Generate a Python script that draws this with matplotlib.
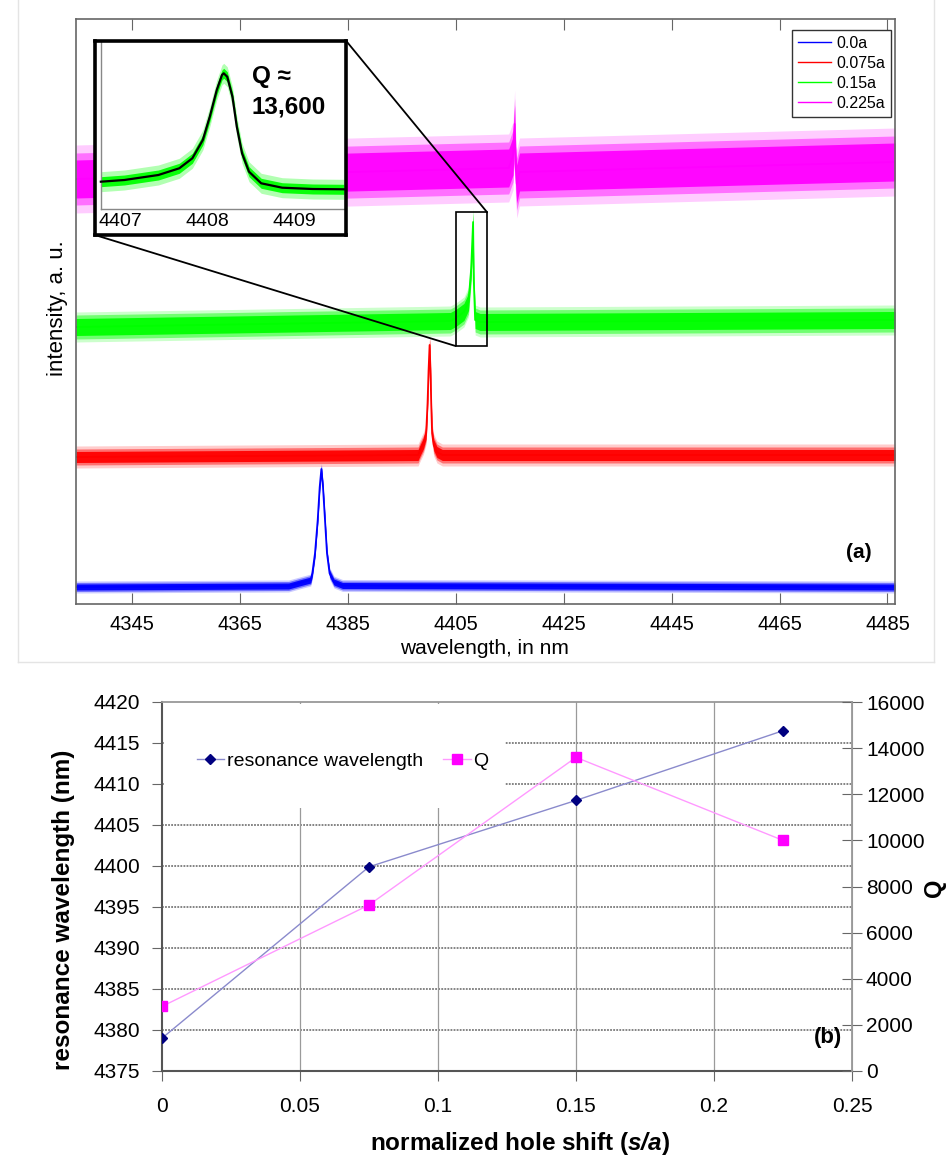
import numpy as np
import matplotlib
matplotlib.use("Agg")
import matplotlib.pyplot as plt
from matplotlib.patches import Rectangle, ConnectionPatch
from matplotlib.lines import Line2D

plt.rcParams['font.family'] = ['Liberation Sans', 'DejaVu Sans']
plt.rcParams['mathtext.fontset'] = 'custom'
plt.rcParams['mathtext.rm'] = 'Liberation Sans'
plt.rcParams['mathtext.it'] = 'Liberation Sans:italic'
plt.rcParams['mathtext.bf'] = 'Liberation Sans:bold'
try:
    plt.rcParams['mathtext.bfit'] = 'Liberation Sans:bold:italic'
except Exception:
    pass

# ---------------- panel (a) data: spectra (wavelength nm, intensity a.u.) ----------------
series_labels = ['0.0a', '0.075a', '0.15a', '0.225a']
series_colors = ['#0000ff', '#ff0000', '#00ff00', '#ff00ff']

wl_00 = [4334.6, 4374.0, 4376.0, 4378.1, 4378.4, 4378.9, 4379.4, 4379.77, 4380.08,
         4380.38, 4380.75, 4381.12, 4381.6, 4382.4, 4384.0, 4486.4]
int_00 = [17, 18, 21, 24, 30.7, 50.7, 84, 117, 135, 117, 84, 50.7, 30.7, 22, 18.5, 17]

wl_075 = [4334.6, 4398.0, 4398.4, 4399.0, 4399.5, 4399.76, 4399.95, 4400.14, 4400.3,
          4400.44, 4400.6, 4400.9, 4401.5, 4402.5, 4486.4]
int_075 = [147, 149, 154, 160.7, 170.7, 200.7, 234, 259, 234, 200.7, 170.7, 159, 152, 149, 149]

wl_150 = [4334.6, 4404.0, 4405.0, 4406.5, 4407.35, 4407.84, 4408.2, 4408.32, 4408.58, 4409.5, 4486.4]
int_150 = [277, 283, 286, 292, 302, 335, 382, 325, 284, 282, 284]

wl_225 = [4334.6, 4414.8, 4415.6, 4415.9, 4416.05, 4416.3, 4416.8, 4486.4]
int_225 = [425, 436, 448, 480, 440, 420, 432, 442]

noise_core = [3.0, 5.5, 8.5, 19.0]     # half-width of dense noise band
noise_mid = [4.5, 8.0, 12.0, 26.0]     # half-width of medium noise band
noise_spike = [6.0, 11.0, 15.0, 34.0]  # half-width of sparse noise spikes

xticks_a = [4345, 4365, 4385, 4405, 4425, 4445, 4465, 4485]

# inset: fitted line shape of the 0.15a mode
inset_wl = [4406.78, 4407.05, 4407.44, 4407.68, 4407.83, 4407.95, 4408.03, 4408.11, 4408.17,
            4408.19, 4408.23, 4408.29, 4408.34, 4408.40, 4408.48, 4408.62, 4408.86, 4409.21, 4409.57]
inset_int = [27.6, 29.3, 34.3, 41, 51, 69.3, 92.6, 119.3, 134.3, 136, 132.6, 112.6, 82.6,
             56, 37.6, 26, 21.6, 20.3, 20]
inset_ticks = [4407, 4408, 4409]

# ---------------- panel (b) data ----------------
hole_shift = [0.0, 0.075, 0.15, 0.225]
res_wl = [4379.0, 4399.9, 4408.0, 4416.5]
q_vals = [2800, 7200, 13600, 10000]
xticks_b = [0, 0.05, 0.1, 0.15, 0.2, 0.25]
xticklabels_b = ['0', '0.05', '0.1', '0.15', '0.2', '0.25']

# ------------------------------------------------------------------
W, H = 948, 1163
fig = plt.figure(figsize=(W / 100, H / 100), dpi=100)

def fx(px):
    return px / W

def fy(py):
    return 1 - py / H

# faint frame lines of the original composite
for xs, ys in [([18, 18], [0, 662]), ([934, 934], [0, 662]), ([18, 934], [662, 662])]:
    fig.add_artist(Line2D([fx(v) for v in xs], [fy(v) for v in ys], color='#e4e4e4',
                          lw=1, transform=fig.transFigure))

# ---------------- panel (a) ----------------
ax1 = fig.add_axes([fx(76), fy(604), (895 - 76) / W, (604 - 19) / H])
ax1.set_xlim(4334.6, 4486.4)
ax1.set_ylim(0, 585)
spectra = [(wl_00, int_00), (wl_075, int_075), (wl_150, int_150), (wl_225, int_225)]
for (wl, it), col, nc, nm, ns in zip(spectra, series_colors, noise_core, noise_mid, noise_spike):
    wl = np.array(wl)
    it = np.array(it, dtype=float)
    ax1.fill_between(wl, it - ns, it + ns, color=col, alpha=0.2, lw=0)
    ax1.fill_between(wl, it - nm, it + nm, color=col, alpha=0.45, lw=0)
    ax1.fill_between(wl, it - nc, it + nc, color=col, alpha=0.95, lw=0)
    ax1.plot(wl, it, color=col, lw=1.3)

ax1.set_xticks(xticks_a)
ax1.set_xticklabels([str(v) for v in xticks_a], fontsize=14.5)
ax1.set_yticks([])
ax1.tick_params(axis='x', direction='in', length=8, top=True, color='#666', pad=8)
for s in ax1.spines.values():
    s.set_color('#666')
    s.set_linewidth(1.2)
fig.text(fx(484), fy(649), 'wavelength, in nm', fontsize=15, ha='center', va='center')
fig.text(fx(57), fy(308), 'intensity, a. u.', fontsize=16, rotation=90, ha='center', va='center')
ax1.text((858.5 - 76) / 819, (604 - 552) / 585, '(a)', transform=ax1.transAxes,
         fontsize=15, fontweight='bold', ha='center', va='center')

handles = [Line2D([], [], color=c, lw=1) for c in series_colors]
leg = ax1.legend(handles, series_labels, loc='upper right',
                 bbox_to_anchor=((890.7 - 76) / 819, (604 - 30) / 585),
                 borderaxespad=0, fontsize=11.5, frameon=True, fancybox=False,
                 edgecolor='#333', framealpha=1, handlelength=2.1, handletextpad=0.3,
                 labelspacing=0.32, borderpad=0.35)
leg.get_frame().set_linewidth(1.0)

# zoom rectangle in main panel
rx0, rx1, ry0, ry1 = 4404.95, 4410.8, 258.0, 391.7
ax1.add_patch(Rectangle((rx0, ry0), rx1 - rx0, ry1 - ry0, fill=False, ec='k', lw=1.2, zorder=5))

# inset
axin = fig.add_axes([fx(95), fy(235), 251 / W, 194.3 / H])
axin.set_xlim(4406.713, 4409.593)
axin.set_ylim(-25.7, 168.6)
axin.set_xticks([])
axin.set_yticks([])
for s in axin.spines.values():
    s.set_linewidth(2.6)
    s.set_color('k')
axin.plot([inset_wl[0], inset_wl[0]], [0, 168.6], color='#888', lw=1)
axin.plot([inset_wl[0], 4409.593], [0, 0], color='#888', lw=1)
iw = np.array(inset_wl)
ii = np.array(inset_int, dtype=float)
axin.fill_between(iw, ii - 10, ii + 10, color='#00ff00', alpha=0.3, lw=0)
axin.fill_between(iw, ii - 5, ii + 5, color='#00ff00', alpha=0.95, lw=0)
axin.plot(iw, ii, color='k', lw=1.6)
for v in inset_ticks:
    axin.text(v, -12.4, str(v), fontsize=14, ha='center', va='center')
axin.text(4408.51, 132.6, 'Q \u2248', fontsize=17.5, fontweight='bold', ha='left', va='center')
axin.text(4408.51, 102.3, '13,600', fontsize=17.5, fontweight='bold', ha='left', va='center')

fig.add_artist(ConnectionPatch(xyA=(1, 1), coordsA=axin.transAxes, xyB=(rx1, ry1),
                               coordsB=ax1.transData, color='k', lw=1.3))
fig.add_artist(ConnectionPatch(xyA=(0, 0), coordsA=axin.transAxes, xyB=(rx0, ry0),
                               coordsB=ax1.transData, color='k', lw=1.3))

# ---------------- panel (b) ----------------
ax2 = fig.add_axes([fx(162), fy(1071), 690 / W, 369 / H])
ax2.set_xlim(0, 0.25)
ax2.set_ylim(4375, 4420)
ax2.set_xticks(xticks_b)
ax2.set_xticklabels(xticklabels_b, fontsize=15)
ax2.set_yticks(np.arange(4375, 4421, 5))
ax2.tick_params(axis='y', labelsize=15, direction='out', length=7, color='#666', pad=8.5)
ax2.tick_params(axis='x', direction='out', length=7, color='#666', pad=12)
for yv in np.arange(4380, 4416, 5):
    ax2.axhline(yv, color='#7a7a7a', lw=1.3, ls=(0, (1, 0.7)), zorder=1)
for xv in xticks_b[1:-1]:
    ax2.axvline(xv, color='#9a9a9a', lw=0.9, zorder=1)
ax2.add_patch(Rectangle((0.003, 0.7127), 0.494, 0.283, transform=ax2.transAxes,
                        fc='white', ec='none', zorder=1.5))
l1, = ax2.plot(hole_shift, res_wl, color='#8a8acc', lw=1.0, marker='D', ms=5.5,
               mfc='#000080', mec='#000080', zorder=3, label='resonance wavelength')
ax2.spines['left'].set_color('#555')
ax2.spines['left'].set_linewidth(1.5)
ax2.spines['bottom'].set_color('#555')
ax2.spines['bottom'].set_linewidth(1.5)
ax2.spines['top'].set_color('#999')
ax2.spines['top'].set_linewidth(1.3)
ax2.spines['right'].set_color('#999')

ax3 = ax2.twinx()
ax3.set_ylim(0, 16000)
ax3.set_yticks(np.arange(0, 16001, 2000))
ax3.tick_params(axis='y', labelsize=15, direction='inout', length=14, color='#666', pad=3)
l2, = ax3.plot(hole_shift, q_vals, color='#ff99ff', lw=1.0, marker='s', ms=6.5,
               mfc='#ff00ff', mec='#ff00ff', zorder=3, label='Q')
for k in ['left', 'bottom', 'top']:
    ax3.spines[k].set_visible(False)
ax3.spines['right'].set_color('#999')
ax3.spines['right'].set_linewidth(1.3)

ax3.legend([l1, l2], ['resonance wavelength', 'Q'], loc='center left',
           bbox_to_anchor=((196.7 - 162) / 690, (1071 - 761) / 369), borderaxespad=0,
           borderpad=0, frameon=False, ncol=2, fontsize=14, handlelength=1.4,
           handletextpad=0.15, columnspacing=1.05)

ax2.text((828.3 - 162) / 690, (1071 - 1038) / 369, '(b)', transform=ax2.transAxes,
         fontsize=16, fontweight='bold', ha='center', va='center', zorder=6)

fig.text(fx(63.5), fy(910), 'resonance wavelength (nm)', fontsize=17.5, fontweight='bold',
         rotation=90, ha='center', va='center')
fig.text(fx(946), fy(888), 'Q', fontsize=17, fontweight='bold', rotation=90,
         ha='right', va='center')
fig.text(fx(520), fy(1143.3), r'normalized hole shift ($\mathbfit{s/a}$)', fontsize=17.5,
         fontweight='bold', ha='center', va='center')

fig.savefig('out.png', dpi=100)
